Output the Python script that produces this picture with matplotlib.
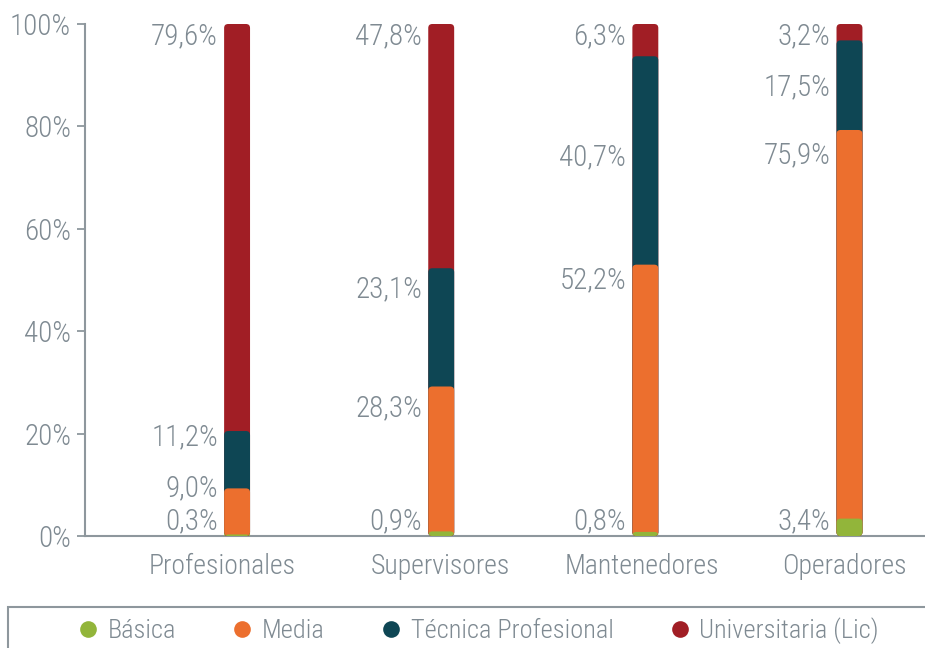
import matplotlib
matplotlib.use("Agg")
import matplotlib.pyplot as plt
import matplotlib.transforms as mtransforms
from matplotlib.patches import FancyBboxPatch, Rectangle
from matplotlib.lines import Line2D
import numpy as np

categories = ["Profesionales", "Supervisores", "Mantenedores", "Operadores"]
series_names = ["Básica", "Media", "Técnica Profesional", "Universitaria (Lic)"]
basica = [0.3, 0.9, 0.8, 3.4]
media = [9.0, 28.3, 52.2, 75.9]
tecnica = [11.2, 23.1, 40.7, 17.5]
universitaria = [79.6, 47.8, 6.3, 3.2]
yticks = [0, 20, 40, 60, 80, 100]
ytick_labels = ["0%", "20%", "40%", "60%", "80%", "100%"]

colors = ["#92b53a", "#ec6f2e", "#0e4654", "#a11e25"]
text_color = "#7f8a92"
axis_color = "#8e979d"

# label vertical positions (layout, in axis units) per series, per category
label_y = [
    [2.9, 2.9, 2.9, 2.9],
    [9.4, 25.0, 50.0, 74.4],
    [19.3, 48.2, 74.0, 87.7],
    [97.6, 97.6, 97.6, 97.6],
]
# horizontal nudges of category labels (pixels)
xlabel_nudge = [-15, -1, -3, -5]

plt.rcParams['font.family'] = ['Roboto Condensed', 'DejaVu Sans']
plt.rcParams['font.weight'] = 'light'
FS = 21
FS_X = 20
FS_LEG = 19

fig = plt.figure(figsize=(9.25, 6.48), dpi=100)
ax = fig.add_axes([85/925, 112/648, 1 - 85/925, 512/648])

series = [basica, media, tecnica, universitaria]
x = np.arange(len(categories))
width = 0.127
tops = np.cumsum(np.array(series), axis=0)
tops = np.minimum(tops, 100)

ax.set_xlim(-0.745, 3.37)
ax.set_ylim(0, 100)

# draw from top-most series down so lower segments overlay
rx = 0.02
ry_over_rx = (4 / 5.12) / rx
for si in range(len(series) - 1, -1, -1):
    bars = ax.bar(x, tops[si], width=width, color=colors[si], alpha=0)
    for b in bars:
        p = FancyBboxPatch((b.get_x(), 0), b.get_width(), b.get_height(),
                           boxstyle=f"round,pad=0,rounding_size={rx}",
                           mutation_aspect=ry_over_rx,
                           facecolor=colors[si], edgecolor="none",
                           zorder=2 + (len(series) - si))
        ax.add_patch(p)
    for ci in range(len(categories)):
        ax.text(x[ci] - width / 2 - 0.03, label_y[si][ci],
                f"{series[si][ci]:.1f}%".replace(".", ","),
                ha="right", va="center", fontsize=FS, color=text_color)

ax.set_yticks(yticks)
ax.set_yticklabels(ytick_labels)
ax.set_xticks(x)
ax.set_xticklabels(categories)
ax.tick_params(axis="y", colors=axis_color, labelcolor=text_color, labelsize=FS,
               length=6, width=1.3, pad=4)
ax.tick_params(axis="x", length=0, labelcolor=text_color, labelsize=FS_X, pad=12)
for lbl, dx in zip(ax.get_xticklabels(), xlabel_nudge):
    lbl.set_transform(lbl.get_transform() +
                      mtransforms.ScaledTranslation(dx / 100, 0, fig.dpi_scale_trans))
for s in ["top", "right"]:
    ax.spines[s].set_visible(False)
for s in ["left", "bottom"]:
    ax.spines[s].set_color(axis_color)
    ax.spines[s].set_linewidth(1.5)

# legend frame (extends past figure edges)
fig.patches.append(Rectangle((8/925, -0.05), 1.0, (648 - 607)/648 + 0.05,
                             transform=fig.transFigure, fill=False,
                             edgecolor=axis_color, linewidth=1.5))
handles = [Line2D([], [], marker="o", linestyle="none", markersize=12,
                  markerfacecolor=c, markeredgecolor="none") for c in colors]
fig.legend(handles, series_names, loc="center left",
           bbox_to_anchor=(79/925, 17/648), ncol=4, frameon=False,
           prop={"size": FS_LEG, "weight": "light", "family": "Roboto Condensed"},
           labelcolor=text_color, handletextpad=0.4,
           columnspacing=2.15, handlelength=0.7, borderpad=0, borderaxespad=0)

fig.savefig("out.png", dpi=100)
